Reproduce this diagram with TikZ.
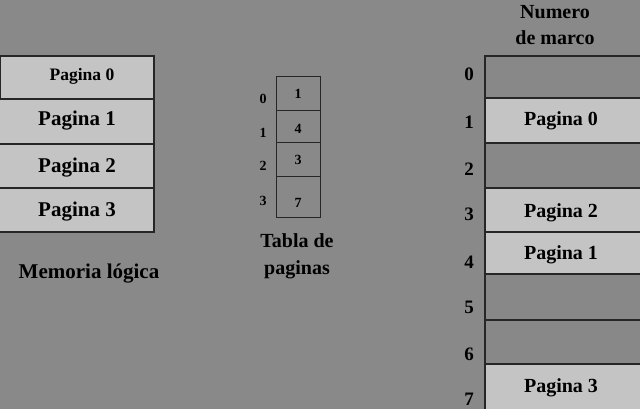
\documentclass[tikz,border=0pt]{standalone}
\usepackage{fontspec}
\setmainfont{Liberation Serif}
\begin{document}
\begin{tikzpicture}[x=1pt,y=-1pt,
  lbl/.style={font=\fontsize{#1}{#1}\selectfont\bfseries, inner sep=0pt, text=black, yshift=-2pt},
  cell/.style={draw=black!85, line width=1.2pt},
  light/.style={cell, fill=lightg},
  dark/.style={cell, fill=darkg}]
\definecolor{bg}{RGB}{137,137,137}
\definecolor{lightg}{RGB}{196,196,196}
\definecolor{darkg}{RGB}{136,136,136}
\fill[bg] (0,0) rectangle (640,409);
\useasboundingbox (0,0) rectangle (640,409);
% logical memory
\draw[light] (0.6,56) rectangle (154,99);
\draw[light] (-2,99) rectangle (154,144);
\draw[light] (-2,144) rectangle (154,188);
\draw[light] (-2,188) rectangle (154,232);
\node[lbl=17.5] (l0) at (82,74) {Pagina 0};
\node[lbl=21] (l1) at (77,119) {Pagina 1};
\node[lbl=21] (l2) at (77,166) {Pagina 2};
\node[lbl=21] (l3) at (77,210) {Pagina 3};
\node[lbl=21] (ml) at (89,272) {Memoria lógica};
% page table
\draw[cell, line width=1pt] (276,77) rectangle (320,111);
\draw[cell, line width=1pt] (276,111) rectangle (320,143);
\draw[cell, line width=1pt] (276,143) rectangle (320,177);
\draw[cell, line width=1pt] (276,177) rectangle (320,217);
\node[lbl=14] (t0) at (298,92) {1};
\node[lbl=14] (t1) at (298,127) {4};
\node[lbl=14] (t2) at (298,158) {3};
\node[lbl=14] (t3) at (298,201) {7};
\node[lbl=14] (i0) at (263,97) {0};
\node[lbl=14] (i1) at (263,131) {1};
\node[lbl=14] (i2) at (263,164) {2};
\node[lbl=14] (i3) at (263,199) {3};
\node[lbl=20, align=center] (tp) at (297,254) {Tabla de\\[7pt]paginas};
% physical memory
\draw[dark]  (485,56) rectangle (642,98);
\draw[light] (485,98) rectangle (642,143);
\draw[dark]  (485,143) rectangle (642,188);
\draw[light] (485,188) rectangle (642,232);
\draw[light] (485,232) rectangle (642,274);
\draw[dark]  (485,274) rectangle (642,320);
\draw[dark]  (485,320) rectangle (642,364);
\draw[light] (485,364) rectangle (642,412);
\node[lbl=20] (m1) at (561,119) {Pagina 0};
\node[lbl=20] (m3) at (561,211) {Pagina 2};
\node[lbl=20] (m4) at (561,253) {Pagina 1};
\node[lbl=20] (m7) at (561,386) {Pagina 3};
\foreach \n/\y in {0/72,1/120,2/167,3/212,4/260,5/305,6/352,7/397}
  \node[lbl=19] (f\n) at (469,\y) {\n};
\node[lbl=20, align=center] (nm) at (555,23) {Numero\\[6pt]de marco};
\end{tikzpicture}
\end{document}
